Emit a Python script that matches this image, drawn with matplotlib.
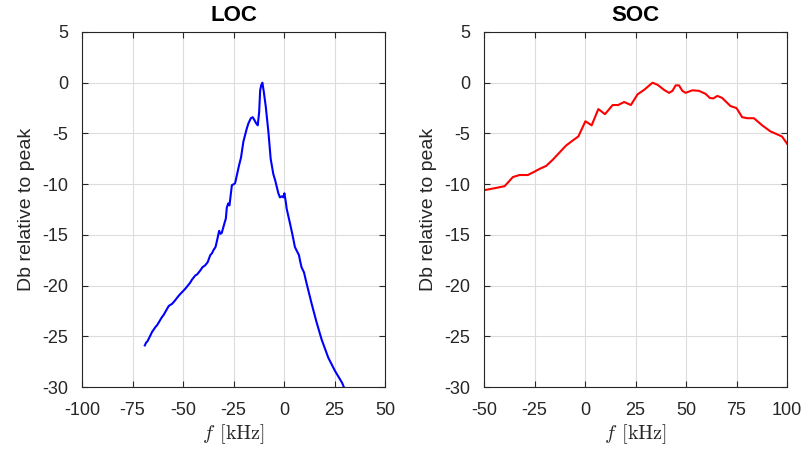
import matplotlib
matplotlib.use("Agg")
import matplotlib.pyplot as plt

plt.rcParams['font.family'] = ['Liberation Sans', 'DejaVu Sans']
plt.rcParams['mathtext.fontset'] = 'cm'
plt.rcParams['axes.unicode_minus'] = False

# LOC data (kHz, dB)
loc_f = [-68.9, -68.2, -67.6, -66.1, -65.4, -63.7, -62.8, -60.4, -59.6, -57.9, -57.0,
         -55.4, -54.5, -52.1, -51.2, -48.8, -48.0, -46.4, -45.5, -43.9, -43.0, -41.4,
         -40.4, -39.0, -37.8, -36.5, -35.6, -34.9, -33.9, -33.2, -32.1, -31.4, -30.8,
         -29.4, -28.8, -28.3, -27.6, -27.0, -25.8, -24.8, -24.2, -22.2, -21.3, -20.1,
         -18.4, -17.6, -16.4, -15.5, -14.6, -13.8, -13.0, -12.3, -11.8, -11.3, -10.7,
         -10.0, -9.0, -7.7, -6.6, -5.3, -4.4, -2.8, -2.0, -1.0, -0.3, 0.2, 1.0, 1.3,
         3.0, 4.2, 5.4, 6.4, 7.4, 8.0, 8.7, 9.9, 11.2, 13.7, 16.1, 18.6, 21.9, 25.2,
         28.8, 29.6]
loc_db = [-25.9, -25.6, -25.5, -24.9, -24.6, -24.1, -23.9, -23.1, -22.9, -22.3, -22.0,
          -21.8, -21.6, -21.0, -20.8, -20.3, -20.1, -19.7, -19.4, -19.0, -18.9, -18.5,
          -18.2, -18.0, -17.7, -17.0, -16.8, -16.5, -16.2, -15.6, -14.6, -14.9, -14.8,
          -13.8, -13.4, -12.3, -11.9, -12.1, -10.1, -10.0, -9.9, -8.1, -7.4, -5.8,
          -4.5, -4.0, -3.5, -3.4, -3.7, -4.0, -4.2, -2.9, -0.75, -0.26, 0.0,
          -0.9, -2.4, -4.9, -7.5, -9.0, -9.6, -10.9, -11.3, -11.2, -11.3, -10.9, -11.9,
          -12.4, -13.9, -15.0, -16.2, -16.6, -17.0, -17.6, -18.2, -18.7, -19.8, -21.8,
          -23.6, -25.3, -27.1, -28.4, -29.6, -30.0]

# SOC data (kHz, dB)
soc_f = [-50.0, -44.7, -39.8, -37.5, -35.7, -32.4, -28.3, -25.8, -22.5, -19.2, -16.0,
         -12.7, -9.4, -6.1, -3.3, 0.2, 3.3, 6.6, 9.9, 13.7, 16.4, 19.4, 22.7, 26.0,
         29.3, 33.4, 35.9, 39.1, 41.6, 43.3, 44.9, 46.5, 48.2, 49.8, 53.1, 56.4, 59.7,
         61.8, 63.5, 65.5, 67.9, 72.0, 75.0, 77.8, 80.3, 83.6, 87.7, 91.8, 97.5, 100.0]
soc_db = [-10.6, -10.4, -10.2, -9.7, -9.3, -9.1, -9.1, -8.85, -8.5, -8.2, -7.6, -6.9,
          -6.2, -5.7, -5.3, -3.8, -4.2, -2.6, -3.1, -2.2, -2.2, -1.9, -2.2, -1.15, -0.7,
          0.0, -0.2, -0.7, -1.0, -0.8, -0.26, -0.26, -0.8, -1.0, -0.75, -0.8, -1.1,
          -1.5, -1.55, -1.3, -1.5, -2.3, -2.5, -3.4, -3.5, -3.5, -4.2, -4.8, -5.3, -6.0]

yticks = [5, 0, -5, -10, -15, -20, -25, -30]
loc_xticks = [-100, -75, -50, -25, 0, 25, 50]
soc_xticks = [-50, -25, 0, 25, 50, 75, 100]

fig = plt.figure(figsize=(8.02, 4.5), dpi=100)
axL = fig.add_axes([82/802, 1-387/450, (385-82)/802, (387-32)/450])
axR = fig.add_axes([484/802, 1-387/450, (787-484)/802, (387-32)/450])

spine_col = '#262626'
for ax, f, db, col, title, xt in [(axL, loc_f, loc_db, '#0000ff', 'LOC', loc_xticks),
                                   (axR, soc_f, soc_db, '#ff0000', 'SOC', soc_xticks)]:
    ax.plot(f, db, color=col, linewidth=1.5, clip_on=True)
    ax.set_xlim(xt[0], xt[-1])
    ax.set_ylim(-30, 5)
    ax.set_xticks(xt)
    ax.set_yticks(yticks)
    ax.grid(True, color='#dcdcdc', linewidth=0.8)
    ax.set_axisbelow(True)
    for s in ax.spines.values():
        s.set_color(spine_col)
        s.set_linewidth(0.8)
    ax.tick_params(direction='in', top=True, right=True, length=4, width=0.8,
                   colors=spine_col, labelsize=13, labelcolor='#262626', pad=10)
    ax.tick_params(axis='x', pad=11)
    ax.set_title(title, fontsize=16, fontweight='bold', pad=8)
    ax.set_ylabel('Db relative to peak', fontsize=14, color='#262626', labelpad=5)
    ax.set_xlabel(r'$f\;\,[\mathrm{kHz}]$', fontsize=14.5, color='#262626', labelpad=2)

fig.savefig('out.png', dpi=100)
